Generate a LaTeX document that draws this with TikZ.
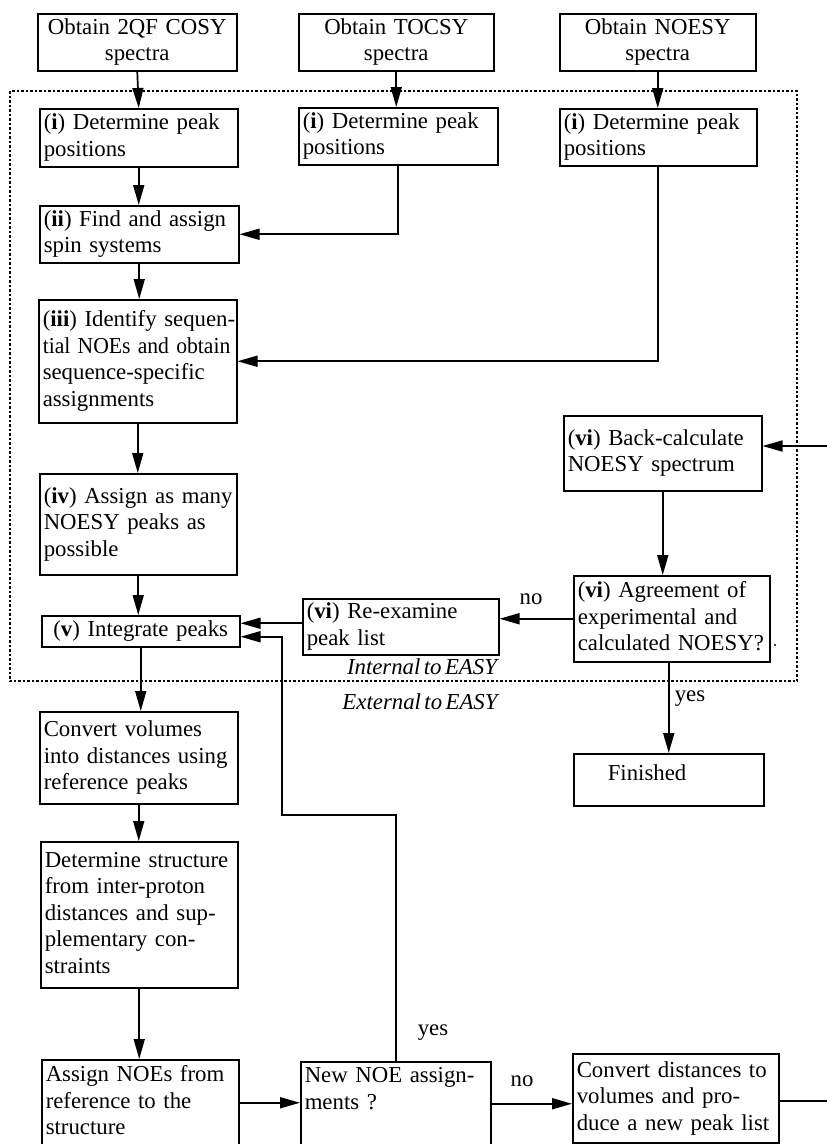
\documentclass[tikz,border=0pt]{standalone}
\usepackage{fontspec}
\usepackage{graphicx}
\setmainfont{Liberation Serif}[WordSpace=0.6]
\usetikzlibrary{arrows.meta}
\newcommand\fs{\fontsize{22.8}{26.5}\selectfont}
\newcommand\lt[1]{\begin{tabular}{@{}l@{}}#1\end{tabular}}
\newcommand\ct[1]{\begin{tabular}{@{}c@{}}#1\end{tabular}}
\tikzset{
  bx/.style n args={3}{draw, line width=1.5pt, anchor=north west, inner xsep=4pt, inner ysep=0pt,
     minimum width=#1pt, minimum height=#2pt, text width=#3pt, align=left, font=\fs},
  cbx/.style={align=center},
  arr/.style={line width=1.7pt, -{Triangle[length=20pt,width=11pt]}},
  ln/.style={line width=1.7pt},
  lbl/.style={font=\fs, inner sep=0pt},
  easy/.style={font=\fs\itshape, inner sep=0pt},
}
\begin{document}
\begin{tikzpicture}[x=1pt,y=-1pt]
\useasboundingbox (0,0) rectangle (827,1144);
\clip (0,0) rectangle (827,1144);
% dotted region
\draw[line width=1.2pt, dash pattern=on 2.5pt off 2pt] (10,91) rectangle (797,681);
% top boxes
\node[bx={199}{57}{191}, cbx] (cosy) at (37,13) {\ct{Obtain 2QF COSY\\spectra}};
\node[bx={195}{57}{187}, cbx] (tocsy) at (298,13) {\ct{Obtain TOCSY\\spectra}};
\node[bx={196}{57}{188}, cbx] (noesy) at (559,13) {\ct{Obtain NOESY\\spectra}};
% row (i)
\node[bx={198}{58}{190}] (ci) at (39,108) {\lt{(\textbf{i}) Determine peak\\positions}};
\node[bx={199}{57}{191}] (ti) at (298,107) {\lt{(\textbf{i}) Determine peak\\positions}};
\node[bx={197}{57}{189}] (ni) at (559,108) {\lt{(\textbf{i}) Determine peak\\positions}};
% left column
\node[bx={199}{57}{191}] (ii) at (39,205) {\lt{(\textbf{ii}) Find and assign\\spin systems}};
\node[bx={198}{123}{190}] (iii) at (38,299) {\lt{(\textbf{iii}) Identify sequen-\\\scalebox{0.95}[1]{tial NOEs and obtain}\\sequence-specific\\assignments}};
\node[bx={197}{101}{189}] (iv) at (39,473) {\lt{(\textbf{iv}) Assign as many\\NOESY peaks as\\possible}};
\node[bx={198}{31}{190}, cbx] (v) at (41,615) {\ct{(\textbf{v}) Integrate peaks}};
\node[bx={196}{56}{188}] (reexam) at (302,598) {\lt{(\textbf{vi}) Re-examine\\peak list}};
\node[bx={198}{75}{190}] (backcalc) at (563,415) {\lt{(\textbf{vi}) Back-calculate\\NOESY spectrum}};
\node[bx={196}{86}{188}] (agree) at (573,575) {\lt{(\textbf{vi}) Agreement of\\experimental and\\calculated NOESY?}};
\fill (775,645) circle (1.1pt);
\node[bx={190}{52}{182}] (finished) at (573,753) {\lt{\hspace*{30pt}\raisebox{6pt}{Finished}}};
\node[bx={198}{92}{190}] (convv) at (39,711) {\lt{Convert volumes\\into distances using\\reference peaks}};
\node[bx={197}{146}{189}] (dets) at (40,841) {\lt{Determine structure\\from inter-proton\\distances and sup-\\plementary con-\\straints}};
\node[bx={197}{86}{189}] (assign) at (41,1059) {\lt{Assign NOEs from\\reference to the\\structure}};
\node[bx={190}{84}{182}] (newnoe) at (300,1061) {\lt{New NOE assign-\\ments ?\\\mbox{}}};
\node[bx={206}{89}{198}] (convd) at (572,1053) {\lt{Convert distances to\\volumes and pro-\\duce a new peak list}};
% free ends at the right edge
\coordinate (edgeB) at (827,446);
\coordinate (edgeR) at (827,1101);
\coordinate (loopA) at (282,815);
% labels
\node[easy] (intl) at (422,667) {Internal to EASY};
\node[easy] (extl) at (420,702) {External to EASY};
\node[lbl] (no1) at (531,599) {no};
\node[lbl] (yes1) at (690,699) {yes};
\node[lbl] (yes2) at (433,1033) {yes};
\node[lbl] (no2) at (522,1081) {no};
% connectors
\draw[arr] (cosy.south) -- (ci.north);
\draw[arr] (tocsy.south) -- (tocsy.south |- ti.north);
\draw[arr] (noesy.south) -- (noesy.south |- ni.north);
\draw[arr] (ci.south) -- (ci.south |- ii.north);
\draw[arr] (ti.south) |- (ii.east);
\draw[arr] (ii.south) -- (ii.south |- iii.north);
\draw[arr] (ni.south) |- (iii.east);
\draw[arr] (iii.south) -- (iii.south |- iv.north);
\draw[arr] (iv.south) -- (iv.south |- v.north);
\draw[arr] (edgeB) -- (edgeB -| backcalc.east);
\draw[arr] (backcalc.south) -- (backcalc.south |- agree.north);
\draw[arr] (agree.west) -- (agree.west -| reexam.east);
\draw[arr] ([yshift=8pt]v.east -| reexam.west) -- ([yshift=8pt]v.east);
\draw[arr] (finished.north |- agree.south) -- (finished.north);
\draw[arr] (v.south) -- (v.south |- convv.north);
\draw[arr] (convv.south) -- (convv.south |- dets.north);
\draw[arr] (dets.south) -- (dets.south |- assign.north);
\draw[arr] (assign.east) -- (assign.east -| newnoe.west);
\draw[arr] (newnoe.east) -- (newnoe.east -| convd.west);
\draw[ln] (convd.east |- edgeR) -- (edgeR);
\draw[arr] (newnoe.north) |- (loopA) |- ([yshift=-5.5pt]v.east);
\end{tikzpicture}
\end{document}
